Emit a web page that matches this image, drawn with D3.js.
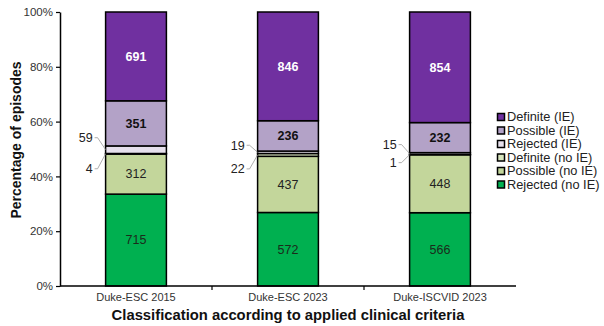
<!DOCTYPE html>
<html>
<head>
<meta charset="utf-8">
<script src="https://cdn.jsdelivr.net/npm/d3@7"></script>
<style>
  body { margin: 0; background: #fff; }
  svg { display: block; font-family: "Liberation Sans", Arial, sans-serif; }
</style>
</head>
<body>
<div id="chart"></div>
<script>
// Stacked 100% bars of episode classification per criteria set

const categories = ["Duke-ESC 2015", "Duke-ESC 2023", "Duke-ISCVID 2023"];
const seriesNames = ["Rejected (no IE)", "Possible (no IE)", "Definite (no IE)",
                     "Rejected (IE)", "Possible (IE)", "Definite (IE)"];
const rejectedNoIE = [715, 572, 566];
const possibleNoIE = [312, 437, 448];
const definiteNoIE = [4, 22, 1];
const rejectedIE   = [59, 19, 15];
const possibleIE   = [351, 236, 232];
const definiteIE   = [691, 846, 854];
const yTicks = [0, 0.2, 0.4, 0.6, 0.8, 1];

const seriesValues = [rejectedNoIE, possibleNoIE, definiteNoIE, rejectedIE, possibleIE, definiteIE];
const colors = ["#00B050", "#C3D69B", "#D7E4BD", "#E6E0EC", "#B3A2C7", "#7030A0"];

// 1) Dimensions
const width = 604, height = 326;
const margin = { top: 12, right: 88, bottom: 40, left: 60 };
const plotW = width - margin.left - margin.right;
const plotH = height - margin.top - margin.bottom;

const svg = d3.select("#chart").append("svg")
  .attr("width", width)
  .attr("height", height);

// 2) Table + stack
const table = categories.map((c, i) => {
  const row = { category: c };
  seriesNames.forEach((s, k) => row[s] = seriesValues[k][i]);
  return row;
});
const stack = d3.stack().keys(seriesNames).offset(d3.stackOffsetExpand);
const layers = stack(table);

// 3) Scales
const x = d3.scaleBand().domain(categories)
  .range([margin.left, margin.left + plotW])
  .paddingInner(0.6).paddingOuter(0.3);
const y = d3.scaleLinear().domain([0, 1]).range([margin.top + plotH, margin.top]);
const color = d3.scaleOrdinal().domain(seriesNames).range(colors);

// 4) Bars
const g = svg.append("g");
layers.forEach((layer, k) => {
  g.selectAll(null)
    .data(layer)
    .enter().append("rect")
      .attr("x", d => x(d.data.category))
      .attr("y", d => y(d[1]))
      .attr("width", x.bandwidth())
      .attr("height", d => y(d[0]) - y(d[1]))
      .attr("fill", color(layer.key))
      .attr("stroke", "#000")
      .attr("stroke-width", 1.5);
});

// 5) Labels inside the bars
const insideStyle = {
  "Rejected (no IE)": { fill: "#1b2b1b", weight: "normal" },
  "Possible (no IE)": { fill: "#222", weight: "normal" },
  "Possible (IE)":    { fill: "#111", weight: "bold" },
  "Definite (IE)":    { fill: "#fff", weight: "bold" }
};
layers.filter(l => insideStyle[l.key]).forEach(layer => {
  const st = insideStyle[layer.key];
  g.selectAll(null)
    .data(layer)
    .enter().append("text")
      .attr("x", d => x(d.data.category) + x.bandwidth() / 2)
      .attr("y", d => (y(d[0]) + y(d[1])) / 2)
      .attr("dy", "0.35em")
      .attr("text-anchor", "middle")
      .attr("font-size", "12.5px")
      .attr("font-weight", st.weight)
      .attr("fill", st.fill)
      .text(d => d.data[layer.key]);
});

// 6) Small segments: labels outside with leader lines
const outside = [
  { key: "Rejected (IE)", dy: [-12, -7, -9] },
  { key: "Definite (no IE)", dy: [15, 14, 8] }
];
outside.forEach(o => {
  const layer = layers.find(l => l.key === o.key);
  layer.forEach((d, i) => {
    const bx = x(d.data.category);
    const my = (y(d[0]) + y(d[1])) / 2;
    const ly = my + o.dy[i];
    const lx = bx - 13;
    g.append("path")
      .attr("d", `M${lx + 2},${ly} L${lx + 5},${ly} L${bx},${my}`)
      .attr("fill", "none")
      .attr("stroke", "#999")
      .attr("stroke-width", 0.8);
    g.append("text")
      .attr("x", lx)
      .attr("y", ly)
      .attr("dy", "0.35em")
      .attr("text-anchor", "end")
      .attr("font-size", "12.5px")
      .attr("fill", "#222")
      .text(d.data[o.key]);
  });
});

// 7) Axes
const yAxis = svg.append("g")
  .attr("transform", `translate(${margin.left},0)`)
  .call(d3.axisLeft(y).tickValues(yTicks).tickFormat(d3.format(".0%")).tickSize(4).tickSizeOuter(0));
yAxis.select(".domain").attr("stroke", "#000").attr("stroke-width", 1.5);
yAxis.selectAll(".tick line").attr("stroke", "#000").attr("stroke-width", 1.2);
yAxis.selectAll(".tick text")
  .attr("font-size", "11.5px")
  .attr("fill", "#333")
  .attr("font-family", "Liberation Sans, Arial, sans-serif");

const xAxisY = margin.top + plotH;
const xAxis = svg.append("g");
xAxis.append("line")
  .attr("x1", margin.left).attr("x2", margin.left + plotW)
  .attr("y1", xAxisY).attr("y2", xAxisY)
  .attr("stroke", "#000").attr("stroke-width", 1.5);
xAxis.selectAll(null)
  .data(categories.slice(1))
  .enter().append("line")
    .attr("x1", (d, i) => margin.left + x.step() * (i + 1))
    .attr("x2", (d, i) => margin.left + x.step() * (i + 1))
    .attr("y1", xAxisY).attr("y2", xAxisY + 4)
    .attr("stroke", "#000").attr("stroke-width", 1.2);
xAxis.selectAll(null)
  .data(categories)
  .enter().append("text")
    .attr("x", d => x(d) + x.bandwidth() / 2)
    .attr("y", xAxisY + 15)
    .attr("text-anchor", "middle")
    .attr("font-size", "11px")
    .attr("fill", "#333")
    .text(d => d);

// Axis titles
svg.append("text")
  .attr("x", margin.left + plotW / 2)
  .attr("y", xAxisY + 34)
  .attr("text-anchor", "middle")
  .attr("font-size", "14.8px")
  .attr("font-weight", "bold")
  .attr("fill", "#111")
  .text("Classification according to applied clinical criteria");

svg.append("text")
  .attr("transform", `translate(16,140) rotate(-90)`)
  .attr("dy", "0.35em")
  .attr("text-anchor", "middle")
  .attr("font-size", "14px")
  .attr("font-weight", "bold")
  .attr("fill", "#111")
  .text("Percentage of episodes");

// 8) Legend (top series first)
const legend = svg.append("g").attr("transform", "translate(497,117)");
const items = legend.selectAll(".legend-item")
  .data(seriesNames.slice().reverse())
  .enter().append("g")
    .attr("class", "legend-item")
    .attr("transform", (d, i) => `translate(0,${i * 13.5})`);
items.append("rect")
  .attr("x", 0.5).attr("y", -3.5)
  .attr("width", 7).attr("height", 7)
  .attr("fill", d => color(d))
  .attr("stroke", "#000")
  .attr("stroke-width", 1.5);
items.append("text")
  .attr("x", 10)
  .attr("y", 0)
  .attr("dy", "0.35em")
  .attr("font-size", "12.8px")
  .attr("fill", "#222")
  .text(d => d);
</script>
</body>
</html>
